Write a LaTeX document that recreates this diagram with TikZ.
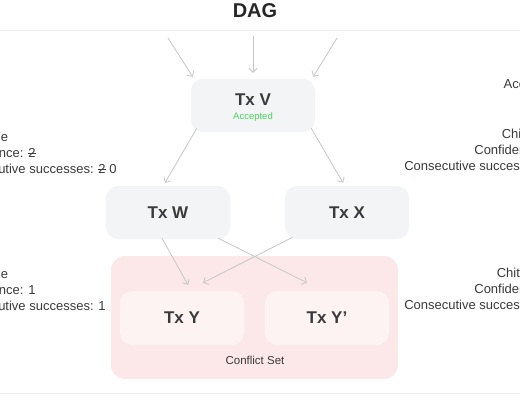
\documentclass[tikz,border=0pt]{standalone}
\usepackage{fontspec}
\setmainfont{Liberation Sans}
\usetikzlibrary{arrows.meta,positioning}
\definecolor{boxgray}{HTML}{F3F4F6}
\definecolor{setpink}{HTML}{FCE8E8}
\definecolor{txpink}{HTML}{FDF3F3}
\definecolor{edgegray}{HTML}{C6C6C6}
\definecolor{okgreen}{HTML}{4CD65E}
\definecolor{ink}{HTML}{3A3A3A}
\definecolor{rulegray}{HTML}{EEEEEE}
\newcommand{\struck}[1]{\ooalign{#1\cr\hidewidth\rule[0.32em]{0.62em}{0.07em}\hidewidth\cr}}
\tikzset{>={Straight Barb[length=4pt,width=8pt]}}
\tikzset{txbox/.style={rounded corners=12pt, fill=boxgray, minimum width=124pt,
    minimum height=53pt, inner sep=0pt, align=center, text=ink,
    font=\fontsize{17}{20}\selectfont\bfseries}}
\tikzset{conflictbox/.style={rounded corners=14pt, fill=setpink, minimum width=287pt,
    minimum height=123pt, inner sep=0pt}}
\tikzset{flow/.style={->, draw=edgegray, line width=0.8pt}}
\tikzset{sidetext/.style={align=left, inner sep=0pt, text=ink,
    font=\fontsize{13}{16}\selectfont}}

\begin{document}
\begin{tikzpicture}[x=1pt,y=-1pt]
  \useasboundingbox (0,0) rectangle (520,400);
  \clip (0,0) rectangle (520,400);
  \fill[white] (0,0) rectangle (520,400);
  % title and rules
  \node[font=\fontsize{20}{24}\selectfont\bfseries, text=black!85] (title) at (255,11) {DAG};
  \draw[rulegray, line width=0.8pt] (0,30) -- (520,30);
  \draw[rulegray, line width=0.8pt] (0,393) -- (520,393);
  % conflict set
  \node[conflictbox] (cset) at (254.5,317.5) {};
  \node[text=ink, font=\fontsize{11.5}{13}\selectfont] (csetlabel) at (255,360) {Conflict Set};
  % transactions
  \node[txbox] (txv) at (253,105.5) {};
  \node[text=ink, font=\fontsize{17}{20}\selectfont\bfseries] (txvname) at (253,100) {Tx V};
  \node[text=okgreen, font=\fontsize{9.5}{11}\selectfont] (txvstate) at (253,117) {Accepted};
  \node[txbox] (txw) at (168,212.5) {Tx W};
  \node[txbox] (txx) at (347,212.5) {Tx X};
  \node[txbox, fill=txpink, minimum height=54pt] (txy) at (182,318) {Tx Y};
  \node[txbox, fill=txpink, minimum height=54pt] (txyp) at (327,318) {Tx Y’};
  % incoming parents
  \coordinate (in1) at (168,38);
  \coordinate (in2) at (253,36);
  \coordinate (in3) at (337,38);
  \draw[flow] (in1) -- ([shift={(2,-2)}]txv.north west);
  \draw[flow] (in2) -- ([shift={(0,-6)}]txv.north);
  \draw[flow] (in3) -- ([shift={(-2,-2)}]txv.north east);
  % edges
  \draw[flow] ([shift={(6,-4)}]txv.south west) -- ([shift={(-3,-3)}]txw.north);
  \draw[flow] ([shift={(-4,-4)}]txv.south east) -- ([shift={(-4,-3)}]txx.north);
  \draw[flow] ([shift={(-6,-1)}]txw.south) -- ([shift={(6,-6)}]txy.north);
  \draw[flow] ([shift={(-12,-1)}]txw.south east) -- ([shift={(-20,-8)}]txyp.north);
  \draw[flow] ([shift={(8,-2)}]txx.south west) -- ([shift={(21,-8)}]txy.north);
  % side notes
  \node[sidetext, anchor=west] (leftone) at (-46,153)
    {Chit: true\\Confidence: \struck{2}\\Consecutive successes: \struck{2} 0};
  \node[sidetext, anchor=west] (lefttwo) at (-46,290)
    {Chit: true\\Confidence: 1\\Consecutive successes: 1};
  \node[sidetext, anchor=east] (rightacc) at (558,85) {Accepted};
  \node[sidetext, align=right, anchor=east] (rightone) at (556,150)
    {Chit: true\\Confidence: 1\\Consecutive successes: 1};
  \node[sidetext, align=right, anchor=east] (righttwo) at (556,289)
    {Chit: false\\Confidence: 0\\Consecutive successes: 0};
\end{tikzpicture}
\end{document}
